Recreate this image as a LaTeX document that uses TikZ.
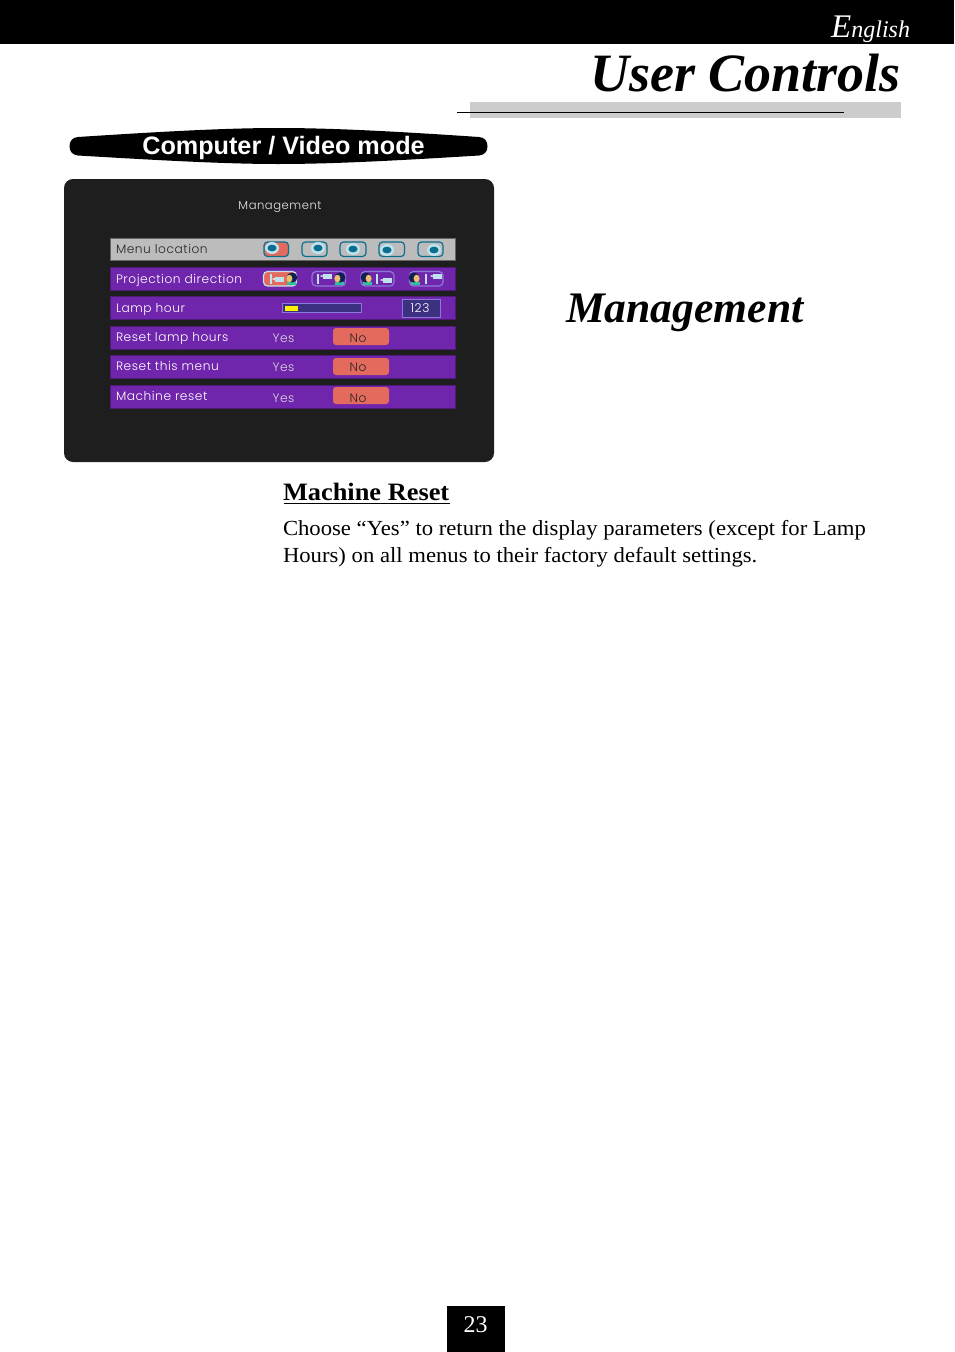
\documentclass[tikz,border=0pt]{standalone}
\usepackage{fontspec}
\setmainfont{Liberation Serif}
\newfontfamily\bodyf[FakeStretch=1.055]{Liberation Serif}
\newfontfamily\headf{Liberation Sans}
\newfontfamily\menuf[LetterSpace=4.5]{Poppins Light}
\usetikzlibrary{calc}
\definecolor{panelc}{HTML}{1E1E1E}
\definecolor{barc}{HTML}{7026AC}
\definecolor{greyc}{HTML}{BCBCBC}
\definecolor{salmon}{HTML}{E56A5E}
\definecolor{tealc}{HTML}{0C6E8E}
\definecolor{lightc}{HTML}{BFE2EE}
\definecolor{rulec}{HTML}{CCCCCC}
\definecolor{borderc}{HTML}{8C78D8}
\definecolor{trackc}{HTML}{3C3080}
\definecolor{skinc}{HTML}{E8C070}
\definecolor{shirtc}{HTML}{30C0A0}
\definecolor{hairc}{HTML}{102050}
\tikzset{
  x=1pt,y=-1pt,
  every node/.style={inner sep=0pt,outer sep=0pt},
  menutext/.style={anchor=base west,font=\menuf\fontsize{12.2}{14}\selectfont,text=white},
  blacktext/.style={anchor=base west,font=\menuf\fontsize{12.2}{14}\selectfont,text=black!85},
  bodytext/.style={anchor=base west,font=\bodyf\fontsize{21.5}{26}\selectfont},
  rowbar/.style={fill=barc,draw=barc!70!black,line width=.6pt},
  nobtn/.style={fill=salmon,rounded corners=3pt},
  iconbox/.style={draw=tealc,line width=1.2pt,rounded corners=3.5pt},
  projbox/.style={draw=borderc,line width=1.2pt,rounded corners=4pt},
}
% location icon: box left x, right x, dot x, dot y, fill
\newcommand{\locicon}[5]{%
  \draw[iconbox,fill=#5] (#1,242) rectangle (#2,256.5);
  \fill[lightc] (#3,#4) ellipse (7 and 6);
  \fill[tealc] (#3,#4) ellipse (4.6 and 3.4);
}
% person: head x, head y, side of the hair (+1 right, -1 left)
\newcommand{\person}[3]{%
  \fill[shirtc] (#1-4,282) rectangle (#1+4.5,285.2);
  \fill[hairc] (#1+#3,#2) ellipse (5.5 and 5);
  \fill[skinc] (#1-#3*1.6,#2+1) ellipse (3 and 3.8);
}
\newcommand{\projector}[2]{%
  \fill[lightc] (#1-4.5,#2-2.5) rectangle (#1+4.5,#2+2.5);
  \fill[white] (#1-4.5,#2-1) -- (#1-7,#2) -- (#1-4.5,#2+1) -- cycle;
}
\newcommand{\screenbar}[1]{%
  \fill[lightc] (#1-1,273.5) rectangle (#1+1,284);
}
\begin{document}
\begin{tikzpicture}
\useasboundingbox (0,0) rectangle (954,1352);
\fill[white] (0,0) rectangle (954,1352);
% header
\fill[black] (0,0) rectangle (954,44);
\node[anchor=base east,text=white,font=\itshape\fontsize{24}{28}\selectfont] (english) at (910,37) {{\fontsize{33}{33}\selectfont E}nglish};
\node[anchor=base east,font=\bfseries\itshape\fontsize{54}{60}\selectfont] (title) at (901,91) {User Controls};
\fill[rulec] (470,102) rectangle (901,118);
\draw[black,line width=1pt] (457,112.5) -- (844,112.5);
% pill
\fill[black] (78,137) .. controls (170,131) and (230,128) .. (278,128)
  .. controls (330,128) and (390,131) .. (479,137)
  .. controls (484.5,137.4) and (487.5,141) .. (487.5,146.2)
  .. controls (487.5,151.5) and (484.5,155) .. (479,155.5)
  .. controls (390,161) and (330,164) .. (278,164)
  .. controls (230,164) and (170,161) .. (78,155.5)
  .. controls (72.5,155) and (69.5,151.5) .. (69.5,146.2)
  .. controls (69.5,141) and (72.5,137.4) .. (78,137) -- cycle;
\node[anchor=base,text=white,font=\headf\bfseries\fontsize{25.2}{28}\selectfont] (mode) at (283.5,154) {Computer / Video mode};
% panel
\fill[panelc,rounded corners=9pt] (64,179) rectangle (494,462);
\node[menutext,anchor=base,text=white!90!black,font=\menuf\fontsize{11.6}{14}\selectfont] (paneltitle) at (280,209.5) {Management};
% rows
\draw[fill=greyc,draw=black!60,line width=.6pt] (110.5,238.5) rectangle (455.5,260.5);
\draw[rowbar] (110.5,267.5) rectangle (455.5,290);
\draw[rowbar] (110.5,296.5) rectangle (455.5,319.5);
\draw[rowbar] (110.5,326) rectangle (455.5,349);
\draw[rowbar] (110.5,355.5) rectangle (455.5,378);
\draw[rowbar] (110.5,385) rectangle (455.5,408);
\node[blacktext] (r1) at (116,253.5) {Menu location};
\node[menutext] (r2) at (116,283) {Projection direction};
\node[menutext] (r3) at (116,312.5) {Lamp hour};
\node[menutext] (r4) at (116,341) {Reset lamp hours};
\node[menutext] (r5) at (116,370.5) {Reset this menu};
\node[menutext] (r6) at (116,400.5) {Machine reset};
% location icons
\locicon{264}{288.5}{272}{248}{salmon}
\locicon{302}{327}{318}{248}{greyc}
\locicon{340}{366}{353}{249}{greyc}
\locicon{379}{404.5}{387}{250}{greyc}
\locicon{418}{443}{434}{250}{greyc}
% projection icons
\draw[draw=lightc,line width=1.2pt,rounded corners=4pt,fill=salmon] (263.5,271.5) rectangle (296.5,286);
\screenbar{271}\projector{279}{279}\person{291}{277.5}{1}
\draw[projbox] (312,271.5) rectangle (345.5,286);
\screenbar{318}\projector{327}{276}\person{339}{277.5}{1}
\draw[projbox] (361,271.5) rectangle (394,286);
\person{367}{277.5}{-1}\screenbar{377}\projector{387}{280}
\draw[projbox] (409.5,271.5) rectangle (443,286);
\person{415}{277.5}{-1}\screenbar{426}\projector{437}{276}
% lamp hour gauge
\draw[fill=trackc,draw=borderc,line width=.9pt] (282.5,303.5) rectangle (361.5,312);
\fill[yellow] (284.5,305.5) rectangle (298,311);
\draw[fill=trackc,draw=borderc,line width=1pt] (402.5,299.5) rectangle (440.5,317);
\node[menutext,anchor=base] (hours) at (420,312.5) {123};
% yes / no
\foreach \nm/\ytop/\ybb in {a/328/342.5,b/358/371.5,c/387/402}{
  \fill[nobtn] (333,\ytop) rectangle (389,\ytop+17);
  \node[menutext,anchor=base,text=white!85!black] (yes\nm) at (283.5,\ybb) {Yes};
  \node[blacktext,anchor=base] (no\nm) at (358,\ybb) {No};
}
% main text
\node[anchor=base west,font=\bfseries\itshape\fontsize{43.6}{50}\selectfont] (mgmt) at (566,322) {Management};
\node[anchor=base west,font=\bodyf\bfseries\fontsize{25}{30}\selectfont] (mr) at (283,500.5) {Machine Reset};
\draw[black,line width=1.2pt] (283.5,503.5) -- (449.5,503.5);
\node[bodytext] (l1) at (283,535) {Choose “Yes” to return the display parameters (except for Lamp};
\node[bodytext] (l2) at (283,562) {Hours) on all menus to their factory default settings.};
% page number
\fill[black] (447,1306) rectangle (505,1352);
\node[anchor=base,text=white,font=\fontsize{24}{28}\selectfont] (page) at (475.5,1332) {23};
\end{tikzpicture}
\end{document}
